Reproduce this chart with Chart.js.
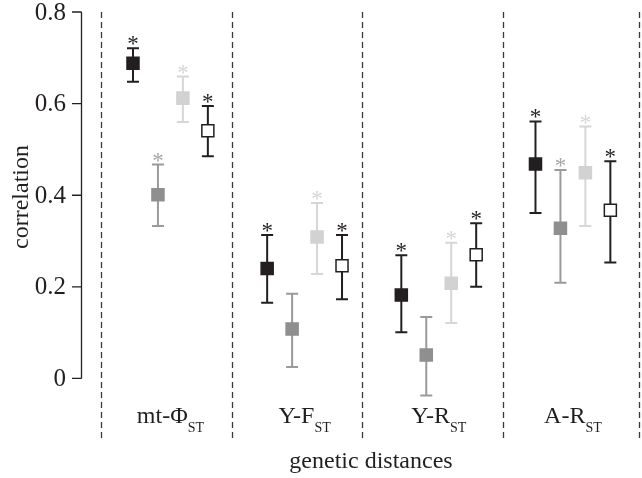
<!DOCTYPE html>
<html>
<head>
<meta charset="utf-8">
<script src="https://cdn.jsdelivr.net/npm/chart.js@4"></script>
<style>
  body { margin: 0; background: #fff; }
  canvas { display: block; }
</style>
</head>
<body>
<canvas id="grafico" width="642" height="478"></canvas>
<script>
// Categorias (texto principal + subscrito)
const categorias = ['mt-\u03A6', 'Y-F', 'Y-R', 'A-R'];
const subscritos = ['ST', 'ST', 'ST', 'ST'];

// Valores de cada série (ponto, limite inferior, limite superior, asterisco)
const preto = [0.688, 0.240, 0.182, 0.468];
const pretoMin = [0.648, 0.165, 0.101, 0.361];
const pretoMax = [0.721, 0.313, 0.269, 0.561];
const pretoSig = [1, 1, 1, 1];

const cinza = [0.401, 0.108, 0.051, 0.328];
const cinzaMin = [0.333, 0.025, -0.037, 0.209];
const cinzaMax = [0.467, 0.185, 0.134, 0.455];
const cinzaSig = [1, 0, 0, 1];

const claro = [0.612, 0.309, 0.208, 0.449];
const claroMin = [0.560, 0.228, 0.121, 0.333];
const claroMax = [0.659, 0.383, 0.296, 0.550];
const claroSig = [1, 1, 1, 1];

const branco = [0.541, 0.246, 0.270, 0.367];
const brancoMin = [0.485, 0.173, 0.200, 0.253];
const brancoMax = [0.595, 0.313, 0.339, 0.474];
const brancoSig = [1, 1, 1, 1];

// Ticks do eixo y e separadores entre grupos
const yTicks = [0, 0.2, 0.4, 0.6, 0.8];
const yTickLabels = ['0', '0.2', '0.4', '0.6', '0.8'];
const separadores = [0.49, 1.466, 2.434, 3.49, 4.5];

const fonte = '"Liberation Serif", "DejaVu Serif", serif';

const series = [
    { valores: preto, min: pretoMin, max: pretoMax, sig: pretoSig, offset: -0.279,
      fill: '#231f20', borda: '#231f20', barra: '#231f20', estrela: '#231f20' },
    { valores: cinza, min: cinzaMin, max: cinzaMax, sig: cinzaSig, offset: -0.093,
      fill: '#8f8f8f', borda: '#8f8f8f', barra: '#9a9a9a', estrela: '#a6a6a6' },
    { valores: claro, min: claroMin, max: claroMax, sig: claroSig, offset: 0.093,
      fill: '#d2d2d2', borda: '#d2d2d2', barra: '#d6d6d6', estrela: '#d6d6d6' },
    { valores: branco, min: brancoMin, max: brancoMax, sig: brancoSig, offset: 0.279,
      fill: '#ffffff', borda: '#231f20', barra: '#231f20', estrela: '#231f20' }
];

// Separadores tracejados e barras de erro (desenhados antes dos pontos)
const barrasPlugin = {
    id: 'barras',
    beforeDatasetsDraw(chart) {
        const ctx = chart.ctx;
        const xs = chart.scales.x;
        const ys = chart.scales.y;
        const area = chart.chartArea;

        ctx.save();
        ctx.strokeStyle = '#3a3a3a';
        ctx.lineWidth = 1.3;
        ctx.setLineDash([6, 4]);
        separadores.forEach(s => {
            const px = Math.round(xs.getPixelForValue(s)) - 0.5;
            ctx.beginPath();
            ctx.moveTo(px, area.top);
            ctx.lineTo(px, area.bottom);
            ctx.stroke();
        });
        ctx.setLineDash([]);

        series.forEach(serie => {
            ctx.strokeStyle = serie.barra;
            ctx.lineWidth = 2;
            serie.valores.forEach((v, i) => {
                const px = xs.getPixelForValue(i + 1 + serie.offset);
                const top = ys.getPixelForValue(serie.max[i]);
                const bot = ys.getPixelForValue(serie.min[i]);
                ctx.beginPath();
                ctx.moveTo(px, top);
                ctx.lineTo(px, bot);
                ctx.moveTo(px - 6, top);
                ctx.lineTo(px + 6, top);
                ctx.moveTo(px - 6, bot);
                ctx.lineTo(px + 6, bot);
                ctx.stroke();
            });
        });
        ctx.restore();
    },
    afterDraw(chart) {
        const ctx = chart.ctx;
        const xs = chart.scales.x;
        const ys = chart.scales.y;
        const area = chart.chartArea;

        ctx.save();
        // Asteriscos de significância
        ctx.font = '23px ' + fonte;
        ctx.textAlign = 'center';
        ctx.textBaseline = 'alphabetic';
        series.forEach(serie => {
            ctx.fillStyle = serie.estrela;
            serie.valores.forEach((v, i) => {
                if (!serie.sig[i]) return;
                const px = xs.getPixelForValue(i + 1 + serie.offset);
                const top = ys.getPixelForValue(serie.max[i]);
                ctx.fillText('*', px, top + 3);
            });
        });

        // Eixo y
        const axisX = 81.5;
        ctx.strokeStyle = '#231f20';
        ctx.lineWidth = 1.3;
        ctx.beginPath();
        ctx.moveTo(axisX, ys.getPixelForValue(yTicks[0]));
        ctx.lineTo(axisX, ys.getPixelForValue(yTicks[yTicks.length - 1]));
        yTicks.forEach(t => {
            const py = ys.getPixelForValue(t);
            ctx.moveTo(72, py);
            ctx.lineTo(axisX, py);
        });
        ctx.stroke();

        ctx.fillStyle = '#231f20';
        ctx.font = '25px ' + fonte;
        ctx.textAlign = 'right';
        ctx.textBaseline = 'middle';
        yTicks.forEach((t, i) => {
            ctx.fillText(yTickLabels[i], 66, ys.getPixelForValue(t) + 1);
        });

        // Título do eixo y
        ctx.save();
        ctx.translate(28, 197);
        ctx.rotate(-Math.PI / 2);
        ctx.textAlign = 'center';
        ctx.textBaseline = 'alphabetic';
        ctx.font = '24px ' + fonte;
        ctx.fillText('correlation', 0, 0);
        ctx.restore();

        // Rótulos das categorias com subscrito
        ctx.textBaseline = 'alphabetic';
        ctx.textAlign = 'left';
        categorias.forEach((cat, i) => {
            ctx.font = '24px ' + fonte;
            const w1 = ctx.measureText(cat).width;
            ctx.font = '14px ' + fonte;
            const w2 = ctx.measureText(subscritos[i]).width;
            const cx = xs.getPixelForValue(i + 1);
            const x0 = cx - (w1 + w2) / 2;
            ctx.font = '24px ' + fonte;
            ctx.fillText(cat, x0, 423);
            ctx.font = '14px ' + fonte;
            ctx.fillText(subscritos[i], x0 + w1, 432);
        });

        // Título do eixo x
        ctx.font = '24px ' + fonte;
        ctx.textAlign = 'center';
        ctx.fillText('genetic distances', (area.left + area.right) / 2, 468);
        ctx.restore();
    }
};

// Inicialização do gráfico
function initializeChart() {
    const ctx = document.getElementById('grafico').getContext('2d');
    return new Chart(ctx, {
        type: 'scatter',
        data: {
            datasets: series.map(serie => ({
                data: serie.valores.map((v, i) => ({ x: i + 1 + serie.offset, y: v })),
                pointStyle: 'rect',
                pointRadius: 8.5,
                backgroundColor: serie.fill,
                borderColor: serie.borda,
                borderWidth: 1.5
            }))
        },
        options: {
            responsive: false,
            animation: false,
            devicePixelRatio: 1,
            layout: { autoPadding: false, padding: { left: 102, right: 2, top: 12, bottom: 40 } },
            plugins: { legend: { display: false }, tooltip: { enabled: false } },
            scales: {
                x: { type: 'linear', min: 0.49, max: 4.5, display: false },
                y: { min: -0.13, max: 0.8, display: false }
            }
        },
        plugins: [barrasPlugin]
    });
}

initializeChart();
</script>
</body>
</html>
